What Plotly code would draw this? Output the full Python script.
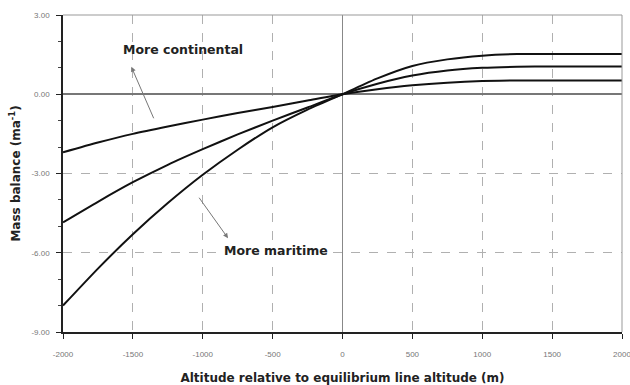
import plotly.graph_objects as go

# Altitude relative to ELA (m)
altitude = [-2000, -1750, -1500, -1250, -1000, -750, -500, -250, 0,
            250, 500, 750, 1000, 1250, 1500, 1750, 2000]

# Mass balance (m a^-1)
continental = [-2.2, -1.83, -1.5, -1.22, -0.96, -0.71, -0.48, -0.24, 0.0,
               0.19, 0.34, 0.44, 0.5, 0.52, 0.52, 0.52, 0.52]
intermediate = [-4.85, -4.07, -3.33, -2.67, -2.08, -1.52, -1.0, -0.5, 0.0,
                0.4, 0.71, 0.9, 1.0, 1.04, 1.05, 1.05, 1.05]
maritime = [-8.0, -6.6, -5.3, -4.12, -3.05, -2.1, -1.25, -0.58, 0.0,
            0.6, 1.07, 1.32, 1.46, 1.52, 1.52, 1.52, 1.52]

x_ticks = [-2000, -1500, -1000, -500, 0, 500, 1000, 1500, 2000]
x_tick_labels = ["-2000", "-1500", "-1000", "-500", "0", "500", "1000", "1500", "2000"]
y_ticks = [3, 0, -3, -6, -9]
y_tick_labels = ["3.00", "0.00", "-3.00", "-6.00", "-9.00"]

title_font = dict(family="DejaVu Sans", size=12, color="#222", weight="bold")
label_font = dict(family="DejaVu Sans", size=12.5, color="#222", weight="bold")
tick_font = dict(family="Liberation Sans Narrow, Liberation Sans", size=8, color="#777")

fig = go.Figure()
for name, ys in [("continental", continental), ("intermediate", intermediate), ("maritime", maritime)]:
    fig.add_trace(go.Scatter(x=altitude, y=ys, mode="lines", name=name,
                             line=dict(color="#111", width=2, shape="spline", smoothing=0.6),
                             showlegend=False, hoverinfo="skip"))

fig.update_layout(
    width=630, height=385,
    margin=dict(l=63, r=8, t=15, b=53),
    paper_bgcolor="white", plot_bgcolor="white",
    xaxis=dict(range=[-2000, 2000], tickvals=x_ticks, ticktext=x_tick_labels,
               automargin=False,
               showline=True, linecolor="#222", linewidth=1.5,
               ticks="outside", ticklen=5, tickcolor="#222", tickwidth=1.2,
               showgrid=True, gridcolor="#b0b0b0", griddash="dash", gridwidth=1,
               zeroline=True, zerolinecolor="#888", zerolinewidth=1,
               tickfont=tick_font, ticklabelstandoff=9, ticklabeloverflow="allow",
               title=dict(text="Altitude relative to equilibrium line altitude (m)",
                          font=title_font, standoff=16)),
    yaxis=dict(range=[-9, 3], tickvals=y_ticks, ticktext=y_tick_labels,
               automargin=False,
               showline=True, linecolor="#222", linewidth=1.5,
               ticks="outside", ticklen=5, tickcolor="#222", tickwidth=1.2,
               minor=dict(dtick=1, ticks="outside", ticklen=3, tickcolor="#444", showgrid=False),
               showgrid=True, gridcolor="#b0b0b0", griddash="dash", gridwidth=1,
               zeroline=True, zerolinecolor="#777", zerolinewidth=1.6,
               tickfont=tick_font, ticklabelstandoff=5,
               title=dict(text="Mass balance (ma<sup>-1</sup>)", font=title_font, standoff=8)),
    shapes=[
        dict(type="line", xref="paper", yref="paper", x0=0, x1=1, y0=1, y1=1,
             line=dict(color="#999", width=1)),
        dict(type="line", xref="paper", yref="paper", x0=1, x1=1, y0=0, y1=1,
             line=dict(color="#999", width=1)),
    ],
    annotations=[
        dict(x=-1143, y=1.68, text="More continental", showarrow=False, font=label_font),
        dict(x=-1511, y=1.04, ax=23, ay=53, text="", showarrow=True,
             arrowhead=2, arrowsize=1, arrowwidth=1, arrowcolor="#777"),
        dict(x=-478, y=-5.93, text="More maritime", showarrow=False, bgcolor="white",
             font=label_font),
        dict(x=-819, y=-5.45, ax=-30, ay=-42, text="", showarrow=True,
             arrowhead=2, arrowsize=1, arrowwidth=1, arrowcolor="#777"),
    ],
)

fig.write_html("out.html")
